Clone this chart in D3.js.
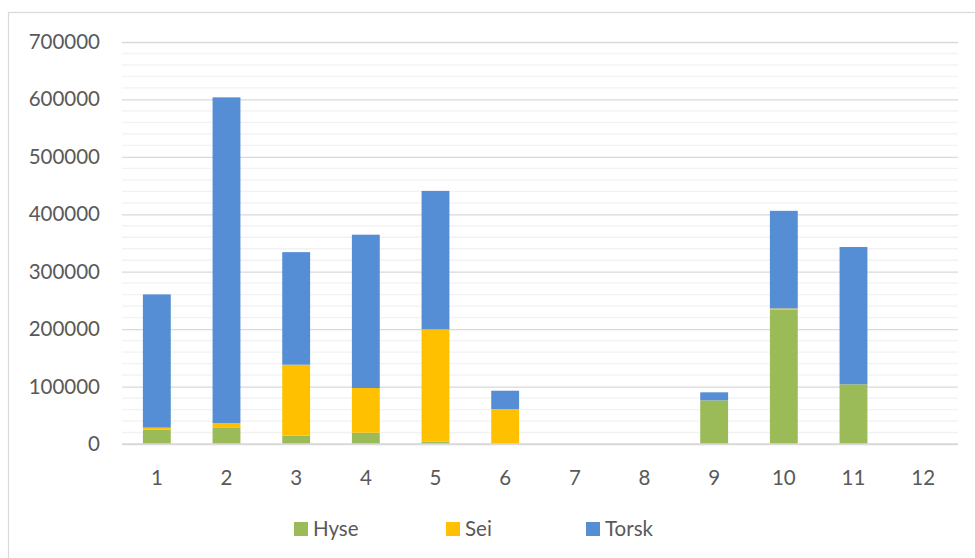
<!DOCTYPE html>
<html><head><meta charset="utf-8">
<script src="https://cdn.jsdelivr.net/npm/d3@7"></script>
<style>html,body{margin:0;padding:0;background:#fff}svg{display:block}</style>
</head><body>
<svg id="chart" width="975" height="558"></svg>
<script>
const categories = ["1","2","3","4","5","6","7","8","9","10","11","12"];
const seriesNames = ["Hyse","Sei","Torsk"];
const hyse  = [25000, 29000, 14500, 19700, 4000, 0, 0, 0, 76000, 234500, 104000, 0];
const sei   = [3500, 7600, 123600, 77800, 195700, 60900, 0, 0, 0, 1500, 0, 0];
const torsk = [232000, 567000, 196000, 267000, 241000, 31900, 0, 0, 14000, 170000, 239000, 0];
const colors = ["#9BBB59", "#FFC000", "#558ED5"];
const yTicks = [0, 100000, 200000, 300000, 400000, 500000, 600000, 700000];

const svg = d3.select("#chart");
const font = "Lato, 'Open Sans', sans-serif";
const textColor = "#595959";
const fs = "20.5px";

// outer border
svg.append("rect").attr("x", 8.5).attr("y", 12.5).attr("width", 1000).attr("height", 600)
  .attr("fill", "none").attr("stroke", "#d9d9d9").attr("stroke-width", 1.2);

const m = {left: 122, right: 958, top: 42, bottom: 444};
const x = d3.scaleBand().domain(categories).range([m.left, m.right]).paddingInner(0.6).paddingOuter(0.3);
const y = d3.scaleLinear().domain([0, 700000]).range([m.bottom, m.top]);

// minor gridlines
const minor = d3.range(0, 700001, 20000).filter(v => v % 100000 !== 0);
svg.append("g").selectAll("line").data(minor).join("line")
  .attr("x1", m.left).attr("x2", m.right)
  .attr("y1", d => y(d)).attr("y2", d => y(d))
  .attr("stroke", "#f2f2f2").attr("stroke-width", 1.3);

// y axis with major gridlines
const yAxis = d3.axisLeft(y).tickValues(yTicks).tickFormat(d3.format("d"))
  .tickSize(-(m.right - m.left)).tickPadding(22);
const gy = svg.append("g").attr("transform", `translate(${m.left},0)`).call(yAxis);
gy.select(".domain").remove();
gy.selectAll(".tick line").attr("stroke", "#d9d9d9").attr("stroke-width", 1.3);
gy.selectAll(".tick text").attr("fill", textColor).style("font-family", font).style("font-size", fs);

// stacked bars
const rows = categories.map((c, i) => ({cat: c, Hyse: hyse[i], Sei: sei[i], Torsk: torsk[i]}));
const stack = d3.stack().keys(seriesNames)(rows);
svg.append("g").selectAll("g").data(stack).join("g")
  .attr("fill", (d, i) => colors[i])
  .selectAll("rect").data(d => d).join("rect")
  .attr("x", d => x(d.data.cat))
  .attr("width", x.bandwidth())
  .attr("y", d => y(d[1]))
  .attr("height", d => Math.max(0, y(d[0]) - y(d[1])));

// baseline
svg.append("line").attr("x1", m.left).attr("x2", m.right)
  .attr("y1", y(0)).attr("y2", y(0)).attr("stroke", "#d9d9d9").attr("stroke-width", 1.5);

// x axis
const xAxis = d3.axisBottom(x).tickSize(0).tickPadding(26);
const gx = svg.append("g").attr("transform", `translate(0,${m.bottom})`).call(xAxis);
gx.select(".domain").remove();
gx.selectAll(".tick text").attr("fill", textColor).style("font-family", font).style("font-size", fs);

// legend
const legendX = [294, 446, 586];
const lg = svg.append("g").selectAll("g").data(seriesNames).join("g")
  .attr("transform", (d, i) => `translate(${legendX[i]},522)`);
lg.append("rect").attr("width", 14).attr("height", 14).attr("fill", (d, i) => colors[i]);
lg.append("text").attr("x", 19).attr("y", 7).attr("dy", "0.36em")
  .attr("fill", textColor).style("font-family", font).style("font-size", fs).text(d => d);
</script>
</body></html>
